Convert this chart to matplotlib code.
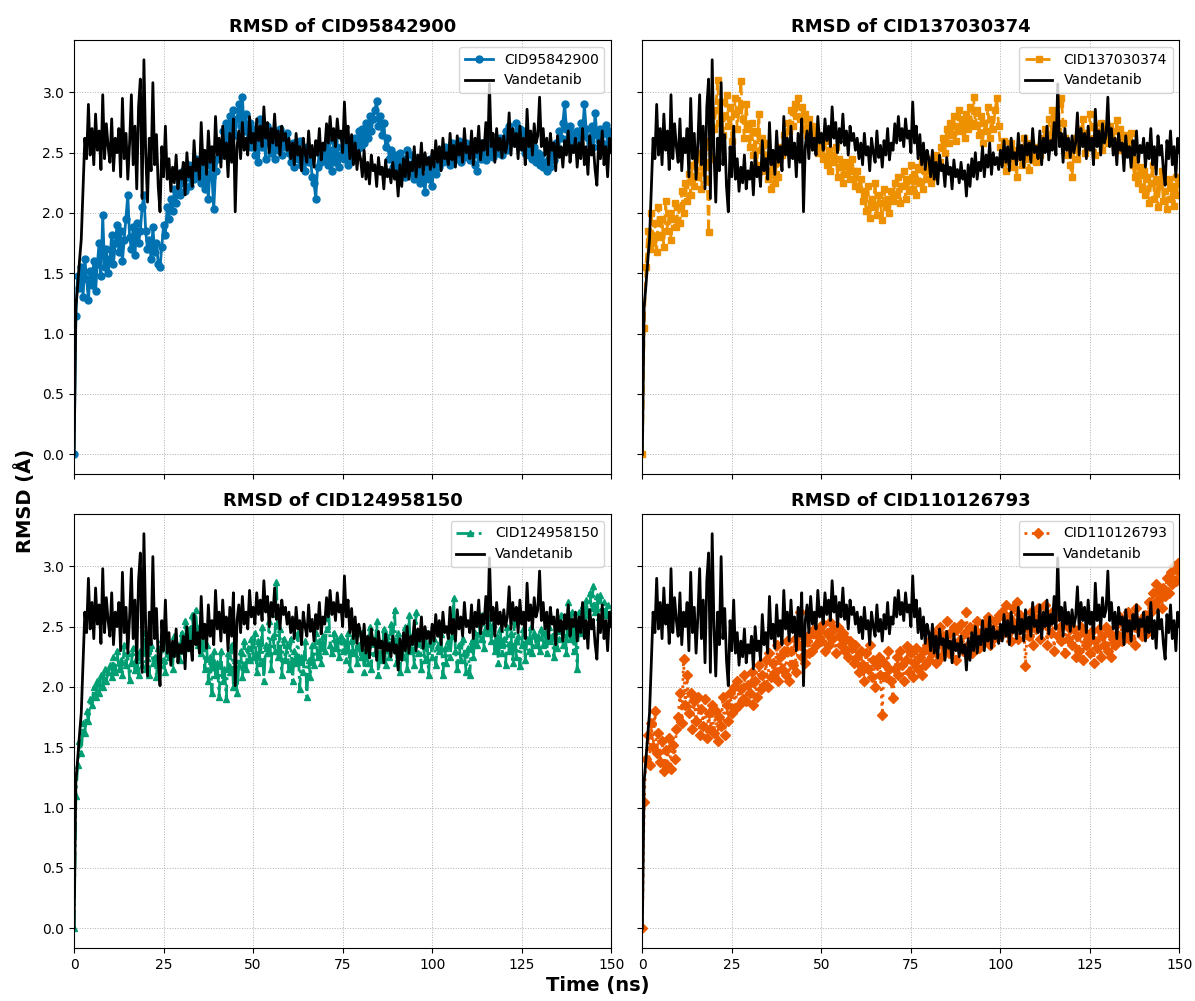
import numpy as np
import matplotlib
matplotlib.use('Agg')
import matplotlib.pyplot as plt

# time axis: one frame every 0.5 ns, 0 - 150 ns
time_ns = np.arange(0, 150.5, 0.5)

# RMSD values (Å), 0.5 ns steps
vandetanib = [
    0.00, 1.22, 1.40, 1.60, 1.78, 2.20, 2.62, 2.45, 2.90, 2.48, 2.70, 2.40, 2.82, 2.52, 2.68, 2.36, 2.98, 2.45, 2.74, 2.55,
    2.42, 2.78, 2.35, 2.62, 2.50, 2.70, 2.30, 2.95, 2.45, 2.66, 2.28, 2.58, 2.98, 2.40, 2.72, 2.20, 2.88, 3.11, 2.12, 3.27,
    2.50, 2.09, 2.62, 2.35, 3.08, 2.40, 2.65, 2.22, 2.01, 2.55, 2.30, 2.72, 2.28, 2.45, 2.18, 2.38, 2.25, 2.48, 2.20, 2.35,
    2.28, 2.42, 2.15, 2.50, 2.30, 2.38, 2.22, 2.60, 2.35, 2.45, 2.28, 2.75, 2.40, 2.52, 2.32, 2.68, 2.42, 2.55, 2.35, 2.80,
    2.48, 2.62, 2.38, 2.72, 2.45, 2.58, 2.30, 2.66, 2.42, 2.78, 2.01, 2.55, 2.68, 2.45, 2.75, 2.52, 2.62, 2.48, 2.80, 2.58,
    2.66, 2.52, 2.78, 2.60, 2.72, 2.55, 2.88, 2.62, 2.75, 2.50, 2.70, 2.58, 2.82, 2.56, 2.68, 2.48, 2.72, 2.60, 2.66, 2.52,
    2.62, 2.45, 2.58, 2.40, 2.66, 2.48, 2.55, 2.35, 2.62, 2.50, 2.42, 2.68, 2.46, 2.56, 2.38, 2.60, 2.48, 2.70, 2.44, 2.58,
    2.52, 2.74, 2.58, 2.80, 2.60, 2.70, 2.55, 2.78, 2.62, 2.68, 2.50, 2.92, 2.58, 2.72, 2.45, 2.65, 2.40, 2.58, 2.36, 2.52,
    2.45, 2.30, 2.52, 2.28, 2.42, 2.24, 2.48, 2.35, 2.40, 2.22, 2.46, 2.32, 2.38, 2.20, 2.44, 2.30, 2.36, 2.25, 2.42, 2.28,
    2.35, 2.14, 2.40, 2.22, 2.45, 2.30, 2.50, 2.28, 2.42, 2.35, 2.55, 2.30, 2.48, 2.38, 2.58, 2.32, 2.50, 2.40, 2.46, 2.36,
    2.52, 2.38, 2.60, 2.42, 2.55, 2.35, 2.62, 2.45, 2.50, 2.40, 2.66, 2.44, 2.56, 2.38, 2.64, 2.48, 2.58, 2.42, 2.70, 2.50,
    2.55, 2.45, 2.68, 2.40, 2.62, 2.50, 2.72, 2.44, 2.60, 2.52, 2.75, 2.48, 3.07, 2.55, 2.66, 2.42, 2.70, 2.52, 2.62, 2.46,
    2.64, 2.50, 2.58, 2.83, 2.48, 2.70, 2.55, 2.66, 2.45, 2.72, 2.52, 2.62, 2.40, 2.86, 2.55, 2.68, 2.48, 2.74, 2.58, 2.64,
    2.96, 2.55, 2.70, 2.48, 2.62, 2.40, 2.66, 2.52, 2.58, 2.35, 2.64, 2.46, 2.55, 2.38, 2.60, 2.48, 2.68, 2.42, 2.56, 2.50,
    2.62, 2.38, 2.58, 2.45, 2.70, 2.40, 2.55, 2.32, 2.64, 2.48, 2.56, 2.36, 2.23, 2.60, 2.45, 2.68, 2.40, 2.55, 2.30, 2.62,
    2.50,
]

cid95842900 = [
    0.00, 1.15, 1.48, 1.38, 1.55, 1.30, 1.62, 1.45, 1.28, 1.52, 1.40, 1.60, 1.35, 1.58, 1.75, 1.48, 1.98, 1.55, 1.70, 1.50,
    1.62, 1.82, 1.58, 1.75, 1.90, 1.68, 1.85, 1.60, 1.78, 1.95, 2.15, 1.80, 1.70, 1.88, 1.65, 1.92, 1.75, 1.85, 2.05, 2.15,
    1.85, 1.70, 1.78, 1.62, 1.88, 1.68, 1.75, 1.58, 1.55, 1.72, 1.90, 1.82, 2.05, 1.95, 2.12, 2.02, 2.20, 2.08, 2.30, 2.15,
    2.25, 2.35, 2.18, 2.30, 2.40, 2.22, 2.35, 2.28, 2.45, 2.30, 2.38, 2.25, 2.42, 2.20, 2.32, 2.12, 2.40, 2.30, 2.03, 2.35,
    2.45, 2.55, 2.48, 2.68, 2.58, 2.75, 2.62, 2.80, 2.70, 2.85, 2.65, 2.78, 2.90, 2.72, 2.96, 2.68, 2.82, 2.60, 2.75, 2.55,
    2.70, 2.48, 2.62, 2.42, 2.78, 2.55, 2.65, 2.45, 2.72, 2.58, 2.50, 2.68, 2.45, 2.60, 2.52, 2.70, 2.48, 2.62, 2.55, 2.66,
    2.50, 2.42, 2.58, 2.38, 2.52, 2.45, 2.60, 2.40, 2.48, 2.35, 2.55, 2.42, 2.46, 2.30, 2.25, 2.12, 2.38, 2.50, 2.42, 2.55,
    2.45, 2.58, 2.40, 2.52, 2.35, 2.60, 2.42, 2.55, 2.38, 2.48, 2.62, 2.45, 2.56, 2.40, 2.50, 2.58, 2.44, 2.62, 2.52, 2.68,
    2.55, 2.70, 2.58, 2.75, 2.62, 2.80, 2.68, 2.78, 2.85, 2.93, 2.72, 2.80, 2.65, 2.75, 2.55, 2.62, 2.45, 2.52, 2.38, 2.48,
    2.42, 2.35, 2.50, 2.38, 2.45, 2.30, 2.52, 2.40, 2.33, 2.48, 2.28, 2.42, 2.35, 2.25, 2.40, 2.30, 2.17, 2.38, 2.28, 2.45,
    2.22, 2.40, 2.32, 2.48, 2.38, 2.52, 2.42, 2.55, 2.45, 2.50, 2.40, 2.58, 2.44, 2.52, 2.48, 2.60, 2.42, 2.55, 2.46, 2.58,
    2.50, 2.44, 2.56, 2.48, 2.40, 2.35, 2.52, 2.45, 2.58, 2.50, 2.44, 2.55, 2.48, 2.60, 2.46, 2.52, 2.56, 2.50, 2.62, 2.48,
    2.55, 2.68, 2.52, 2.72, 2.60, 2.65, 2.58, 2.75, 2.62, 2.70, 2.55, 2.68, 2.50, 2.62, 2.48, 2.58, 2.45, 2.55, 2.42, 2.50,
    2.40, 2.48, 2.38, 2.42, 2.35, 2.45, 2.38, 2.50, 2.44, 2.58, 2.52, 2.68, 2.62, 2.75, 2.90, 2.70, 2.62, 2.72, 2.58, 2.66,
    2.55, 2.68, 2.60, 2.75, 2.65, 2.90, 2.70, 2.62, 2.58, 2.72, 2.55, 2.83, 2.65, 2.60, 2.70, 2.58, 2.66, 2.73, 2.55, 2.68,
    2.62,
]

cid137030374 = [
    0.00, 1.05, 1.55, 1.85, 1.70, 2.00, 1.75, 1.92, 1.68, 2.05, 1.80, 1.95, 1.72, 2.10, 1.85, 2.00, 1.78, 1.95, 2.08, 1.88,
    2.05, 1.92, 2.18, 2.00, 2.25, 2.10, 2.32, 2.15, 2.40, 2.22, 2.45, 2.30, 2.50, 2.20, 2.38, 2.55, 2.42, 1.84, 2.60, 2.45,
    2.70, 2.85, 3.10, 2.75, 2.92, 2.65, 2.80, 2.98, 2.72, 2.88, 2.60, 2.82, 2.95, 2.70, 2.85, 3.09, 2.78, 2.62, 2.90, 2.70,
    2.55, 2.75, 2.48, 2.68, 2.40, 2.82, 2.52, 2.62, 2.35, 2.58, 2.28, 2.45, 2.20, 2.38, 2.25, 2.42, 2.30, 2.55, 2.48, 2.65,
    2.58, 2.75, 2.68, 2.85, 2.72, 2.90, 2.80, 2.95, 2.78, 2.88, 2.70, 2.82, 2.65, 2.78, 2.60, 2.72, 2.55, 2.68, 2.50, 2.62,
    2.55, 2.45, 2.60, 2.40, 2.52, 2.35, 2.48, 2.42, 2.55, 2.30, 2.45, 2.38, 2.25, 2.42, 2.32, 2.40, 2.28, 2.45, 2.35, 2.22,
    2.35, 2.20, 2.28, 2.10, 2.18, 2.02, 2.22, 1.96, 2.12, 2.05, 2.25, 1.98, 2.15, 2.08, 1.94, 2.20, 2.05, 2.12, 2.00, 2.18,
    2.10, 2.25, 2.15, 2.30, 2.08, 2.22, 2.35, 2.12, 2.28, 2.18, 2.40, 2.20, 2.32, 2.15, 2.38, 2.25, 2.43, 2.20, 2.35, 2.28,
    2.40, 2.25, 2.45, 2.30, 2.48, 2.38, 2.42, 2.55, 2.62, 2.50, 2.70, 2.58, 2.75, 2.65, 2.80, 2.60, 2.72, 2.85, 2.68, 2.78,
    2.62, 2.82, 2.70, 2.88, 2.75, 2.96, 2.72, 2.85, 2.65, 2.80, 2.58, 2.75, 2.68, 2.88, 2.62, 2.78, 2.70, 2.85, 2.95, 2.72,
    2.55, 2.42, 2.60, 2.35, 2.50, 2.45, 2.58, 2.38, 2.52, 2.30, 2.48, 2.55, 2.40, 2.62, 2.45, 2.52, 2.36, 2.58, 2.44, 2.50,
    2.42, 2.55, 2.48, 2.62, 2.58, 2.70, 2.65, 2.78, 2.60, 2.85, 2.72, 2.80, 2.68, 2.90, 2.95, 2.75, 2.62, 2.55, 2.48, 2.40,
    2.30, 2.52, 2.62, 2.45, 2.70, 2.58, 2.78, 2.50, 2.66, 2.55, 2.82, 2.60, 2.72, 2.48, 2.68, 2.58, 2.75, 2.52, 2.64, 2.70,
    2.58, 2.72, 2.62, 2.68, 2.55, 2.77, 2.60, 2.70, 2.52, 2.65, 2.58, 2.62, 2.50, 2.66, 2.40, 2.30, 2.45, 2.25, 2.38, 2.20,
    2.35, 2.15, 2.30, 2.08, 2.25, 2.40, 2.12, 2.28, 2.05, 2.22, 2.35, 2.10, 2.18, 2.03, 2.28, 2.12, 2.22, 2.06, 2.30, 2.15,
    2.25,
]

cid124958150 = [
    0.00, 1.10, 1.35, 1.55, 1.45, 1.70, 1.62, 1.80, 1.72, 1.90, 1.85, 2.00, 1.92, 2.05, 1.95, 2.10, 2.00, 2.15, 2.05, 2.12,
    2.18, 2.08, 2.25, 2.12, 2.30, 2.15, 2.22, 2.10, 2.35, 2.18, 2.28, 2.06, 2.20, 2.32, 2.14, 2.25, 2.10, 2.30, 2.18, 2.45,
    2.15, 2.28, 2.10, 2.35, 2.20, 2.25, 2.08, 2.32, 2.18, 2.40, 2.22, 2.12, 2.38, 2.25, 2.30, 2.15, 2.42, 2.28, 2.35, 2.22,
    2.45, 2.30, 2.55, 2.38, 2.48, 2.32, 2.60, 2.40, 2.64, 2.35, 2.50, 2.28, 2.42, 2.15, 2.35, 2.05, 2.25, 1.95, 2.30, 2.10,
    2.20, 1.92, 2.30, 2.05, 2.15, 1.90, 2.28, 2.12, 2.35, 2.00, 2.22, 1.95, 2.18, 2.30, 2.08, 2.38, 2.15, 2.32, 2.22, 2.40,
    2.25, 2.45, 2.12, 2.38, 2.20, 2.50, 2.05, 2.35, 2.28, 2.55, 2.15, 2.42, 2.30, 2.87, 2.25, 2.48, 2.10, 2.40, 2.22, 2.35,
    2.15, 2.40, 2.05, 2.30, 2.20, 2.45, 1.98, 2.25, 2.12, 2.38, 1.92, 2.22, 2.08, 2.35, 2.18, 2.45, 2.25, 2.38, 2.20, 2.42,
    2.30, 2.48, 2.70, 2.35, 2.28, 2.45, 2.32, 2.40, 2.25, 2.42, 2.30, 2.38, 2.22, 2.45, 2.15, 2.40, 2.28, 2.50, 2.20, 2.35,
    2.25, 2.45, 2.12, 2.38, 2.20, 2.50, 2.15, 2.40, 2.28, 2.55, 2.10, 2.35, 2.22, 2.48, 2.18, 2.42, 2.25, 2.52, 2.38, 2.64,
    2.20, 2.45, 2.12, 2.35, 2.25, 2.50, 2.15, 2.60, 2.30, 2.42, 2.18, 2.62, 2.28, 2.40, 2.15, 2.35, 2.22, 2.45, 2.10, 2.38,
    2.25, 2.40, 2.18, 2.35, 2.30, 2.44, 2.10, 2.32, 2.20, 2.38, 2.25, 2.42, 2.74, 2.30, 2.15, 2.35, 2.22, 2.40, 2.28, 2.12,
    2.32, 2.10, 2.38, 2.25, 2.45, 2.35, 2.55, 2.40, 2.60, 2.32, 2.50, 2.45, 2.58, 2.38, 2.52, 2.30, 2.42, 2.20, 2.48, 2.28,
    2.40, 2.18, 2.50, 2.30, 2.45, 2.20, 2.55, 2.25, 2.42, 2.17, 2.35, 2.48, 2.22, 2.40, 2.30, 2.50, 2.28, 2.45, 2.35, 2.42,
    2.30, 2.48, 2.35, 2.45, 2.28, 2.50, 2.38, 2.42, 2.25, 2.46, 2.32, 2.40, 2.60, 2.35, 2.55, 2.28, 2.70, 2.40, 2.62, 2.30,
    2.50, 2.15, 2.62, 2.45, 2.68, 2.55, 2.72, 2.60, 2.78, 2.65, 2.84, 2.62, 2.75, 2.58, 2.76, 2.55, 2.70, 2.60, 2.68, 2.52,
    2.62,
]

cid110126793 = [
    0.00, 1.05, 1.40, 1.60, 1.35, 1.70, 1.50, 1.80, 1.45, 1.62, 1.38, 1.55, 1.30, 1.48, 1.35, 1.58, 1.32, 1.52, 1.40, 1.65,
    1.75, 1.95, 1.70, 2.23, 1.85, 2.10, 1.78, 1.95, 1.65, 1.88, 1.72, 1.92, 1.60, 1.82, 1.68, 1.90, 1.58, 1.78, 1.65, 1.85,
    1.62, 1.80, 1.55, 1.75, 1.68, 1.92, 1.60, 1.85, 1.72, 1.95, 1.78, 2.00, 1.82, 2.05, 1.85, 1.98, 1.90, 2.10, 1.88, 2.02,
    1.95, 2.12, 1.85, 2.05, 1.92, 2.18, 1.98, 2.10, 2.02, 2.22, 2.00, 2.28, 2.08, 2.20, 2.12, 2.35, 2.05, 2.25, 2.15, 2.30,
    2.10, 2.38, 2.05, 2.30, 2.18, 2.40, 2.12, 2.35, 2.62, 2.25, 2.42, 2.20, 2.38, 2.28, 2.45, 2.30, 2.48, 2.35, 2.42, 2.50,
    2.38, 2.52, 2.30, 2.45, 2.35, 2.54, 2.40, 2.48, 2.28, 2.50, 2.42, 2.35, 2.45, 2.30, 2.40, 2.25, 2.38, 2.32, 2.20, 2.35,
    2.25, 2.12, 2.30, 2.18, 2.05, 2.28, 2.15, 2.35, 2.08, 2.22, 2.00, 2.18, 2.25, 2.10, 1.77, 2.20, 2.08, 2.30, 2.15, 2.05,
    1.91, 2.15, 2.25, 2.10, 2.30, 2.18, 2.05, 2.22, 2.34, 2.12, 2.28, 2.08, 2.20, 2.32, 2.15, 2.25, 2.10, 2.30, 2.18, 2.35,
    2.22, 2.40, 2.28, 2.45, 2.20, 2.38, 2.50, 2.25, 2.42, 2.32, 2.55, 2.28, 2.45, 2.35, 2.50, 2.22, 2.48, 2.38, 2.52, 2.30,
    2.45, 2.62, 2.35, 2.50, 2.28, 2.48, 2.40, 2.55, 2.32, 2.45, 2.38, 2.52, 2.42, 2.58, 2.35, 2.48, 2.40, 2.55, 2.45, 2.60,
    2.42, 2.62, 2.50, 2.68, 2.45, 2.58, 2.38, 2.65, 2.52, 2.70, 2.40, 2.60, 2.48, 2.55, 2.17, 2.50, 2.42, 2.62, 2.35, 2.58,
    2.48, 2.65, 2.40, 2.58, 2.52, 2.68, 2.35, 2.55, 2.45, 2.62, 2.30, 2.58, 2.42, 2.50, 2.38, 2.60, 2.28, 2.52, 2.40, 2.48,
    2.35, 2.48, 2.25, 2.42, 2.30, 2.50, 2.22, 2.45, 2.35, 2.40, 2.28, 2.46, 2.20, 2.38, 2.32, 2.48, 2.25, 2.42, 2.35, 2.50,
    2.30, 2.45, 2.25, 2.40, 2.35, 2.52, 2.42, 2.58, 2.38, 2.55, 2.45, 2.62, 2.40, 2.50, 2.58, 2.35, 2.65, 2.48, 2.55, 2.42,
    2.52, 2.60, 2.45, 2.70, 2.62, 2.78, 2.68, 2.85, 2.72, 2.80, 2.65, 2.82, 2.75, 2.90, 2.78, 2.95, 2.85, 3.00, 2.88, 3.03,
    2.95,
]

compounds = ['CID95842900', 'CID137030374', 'CID124958150', 'CID110126793']
series = [cid95842900, cid137030374, cid124958150, cid110126793]
colors = ['#0072B2', '#EE9100', '#009E73', '#EC5A00']
markers = ['o', 's', '^', 'D']
linestyles = ['-', '--', '-.', ':']

fig, axes = plt.subplots(2, 2, figsize=(11.95, 10.01), dpi=100, sharex=True, sharey=True)
fig.subplots_adjust(left=0.062, right=0.987, top=0.960, bottom=0.053, wspace=0.058, hspace=0.092)

for ax, name, vals, c, m, ls in zip(axes.flat, compounds, series, colors, markers, linestyles):
    ax.plot(time_ns, vals, color=c, marker=m, linestyle=ls, linewidth=2,
            markersize=5, label=name)
    ax.plot(time_ns, vandetanib, color='black', linewidth=2, label='Vandetanib')
    ax.set_title(f'RMSD of {name}', fontsize=13, fontweight='bold')
    ax.grid(True, linestyle=':', linewidth=0.7, color='#b0b0b0')
    ax.legend(loc='upper right', fontsize=10)
    ax.tick_params(labelsize=10)

axes[0, 0].set_xlim(0, 150)
axes[0, 0].set_xticks([0, 25, 50, 75, 100, 125, 150])
axes[0, 0].set_yticks([0.0, 0.5, 1.0, 1.5, 2.0, 2.5, 3.0])

fig.text(0.5, 0.01, 'Time (ns)', ha='center', fontsize=14, fontweight='bold')
fig.text(0.012, 0.5, 'RMSD (Å)', va='center', rotation=90, fontsize=14, fontweight='bold')

plt.savefig('out.png', dpi=100)
